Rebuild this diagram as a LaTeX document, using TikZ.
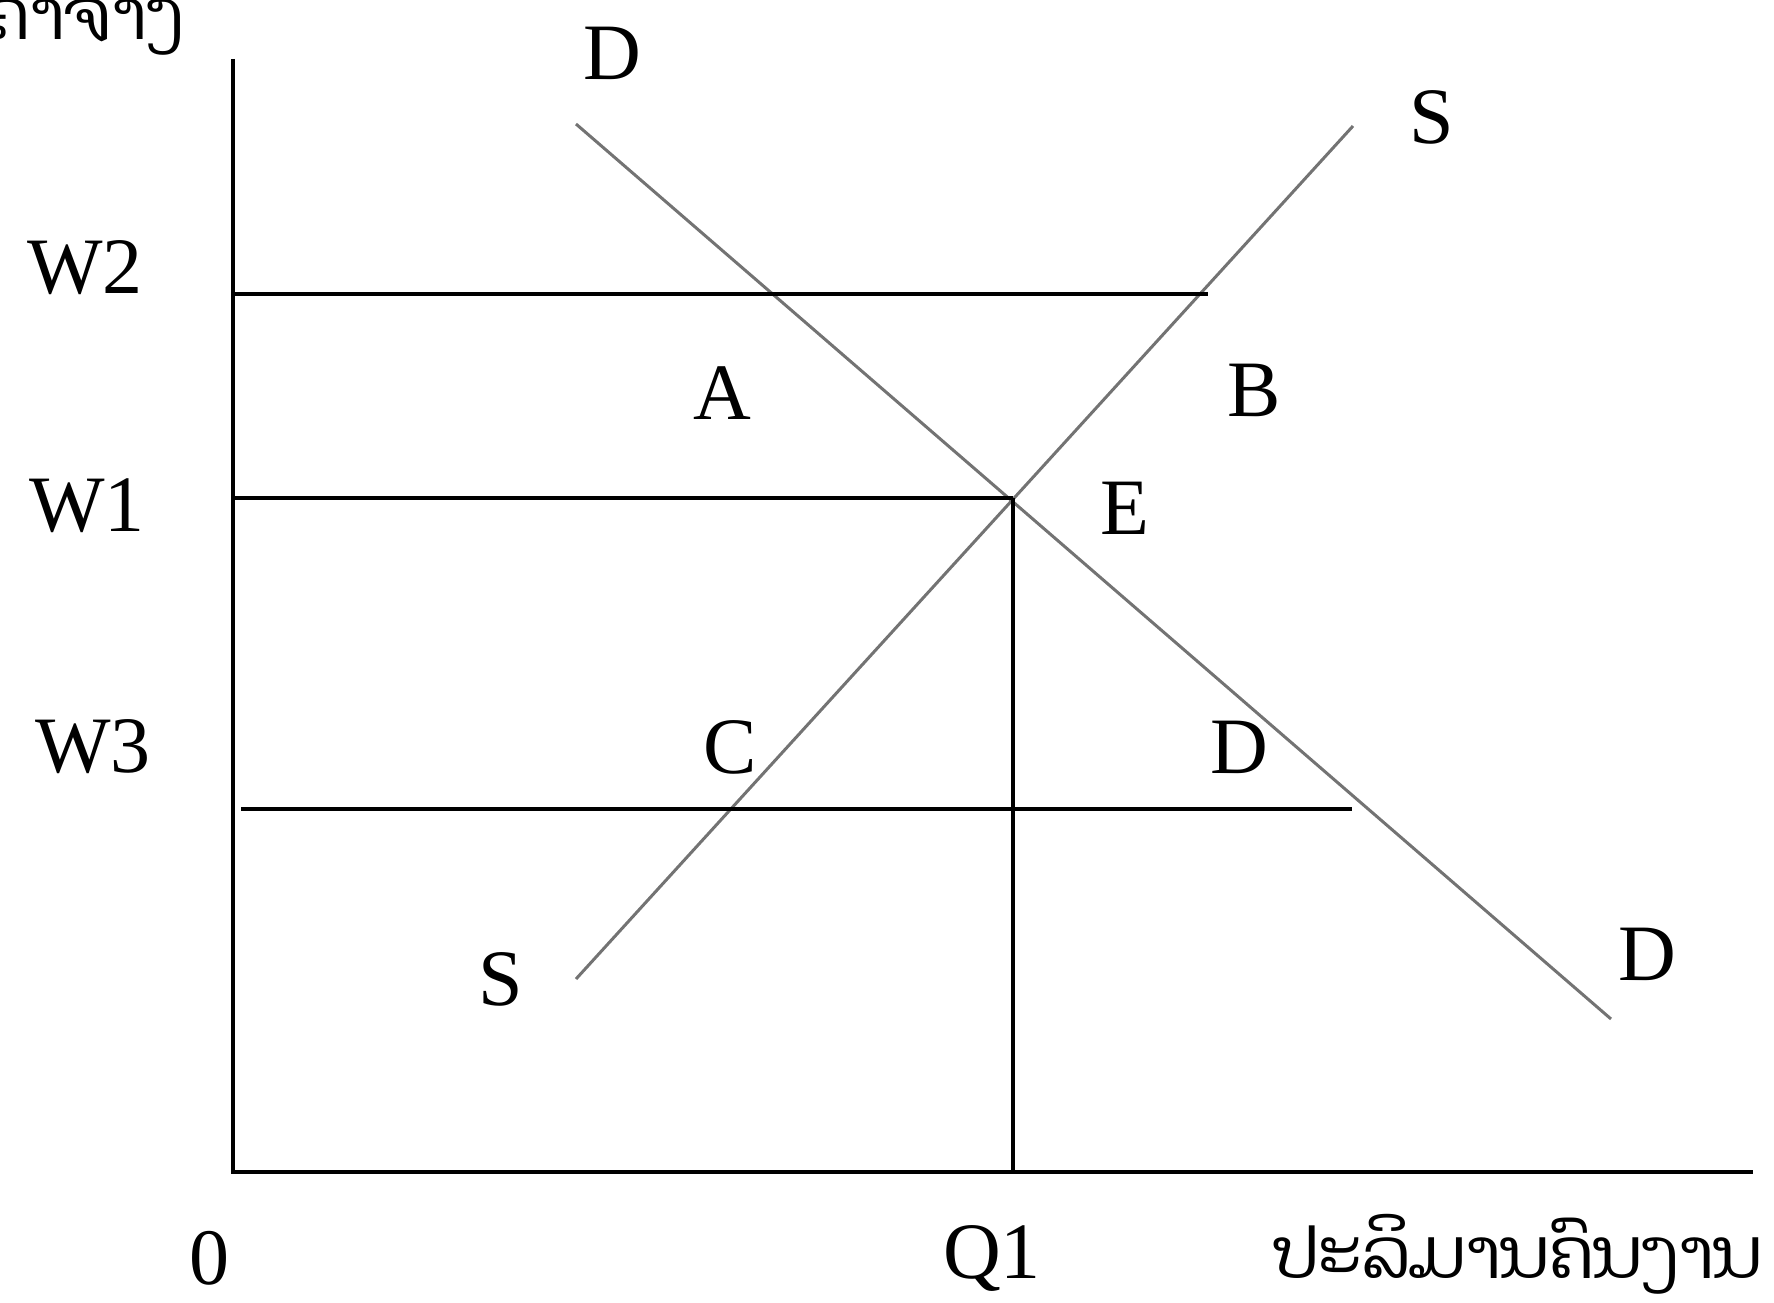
\documentclass[tikz,border=0pt]{standalone}
\usepackage{fontspec}
\setmainfont{Liberation Serif}
\newfontfamily\laofont[Script=Lao]{Dhyana}
\begin{document}
\begin{tikzpicture}[x=1pt,y=-1pt,
  axis/.style={line width=4.5pt,black},
  level/.style={line width=3.5pt,black},
  curve/.style={line width=3pt,black!55},
  lbl/.style={font=\fontsize{80}{90}\selectfont,inner sep=0pt},
  lao/.style={font=\laofont\fontsize{70}{80}\selectfont,inner sep=0pt}]
\useasboundingbox (0,0) rectangle (1774,1303);
\clip (0,0) rectangle (1774,1303);
% coordinates
\coordinate (ytop) at (233,59);
\coordinate (orig) at (233,1172);
\coordinate (xend) at (1753,1172);
\coordinate (w2l) at (233,294);
\coordinate (w2r) at (1208,294);
\coordinate (w1l) at (233,498);
\coordinate (eq) at (1013,498);
\coordinate (w3l) at (241,809);
\coordinate (w3r) at (1352,809);
\coordinate (q1) at (1013,1172);
\coordinate (dtop) at (576,124);
\coordinate (dbot) at (1611,1019);
\coordinate (sbot) at (576,979);
\coordinate (stop) at (1353,126);
% lines
\draw[curve] (dtop) -- (dbot);
\draw[curve] (sbot) -- (stop);
\draw[level] (w2l) -- (w2r);
\draw[level] (w1l) -- (eq);
\draw[level] (w3l) -- (w3r);
\draw[level] (eq) -- (q1);
\draw[axis] (ytop) -- (orig) -- (xend);
% labels
\node[lbl] (lD1) at (612,53) {D};
\node[lbl] (lS1) at (1432,117) {S};
\node[lbl] (lW2) at (85,268) {W2};
\node[lbl] (lA) at (722,393) {A};
\node[lbl] (lB) at (1254,390) {B};
\node[lbl] (lW1) at (87,506) {W1};
\node[lbl] (lE) at (1125,508) {E};
\node[lbl] (lW3) at (93,747) {W3};
\node[lbl] (lC) at (730,747) {C};
\node[lbl] (lD2) at (1239,747) {D};
\node[lbl] (lS2) at (501,979) {S};
\node[lbl] (lD3) at (1647,954) {D};
\node[lbl] (l0) at (209,1258) {0};
\node[lbl] (lQ1) at (992,1258) {Q1};
\node[lao,anchor=base east] (xlab) at (1762,1278) {ປະລິມານຄົນງານ};
\node[lao,anchor=base east] (ylab) at (183,40) {ຄ່າຈ້າງ};
\end{tikzpicture}
\end{document}
